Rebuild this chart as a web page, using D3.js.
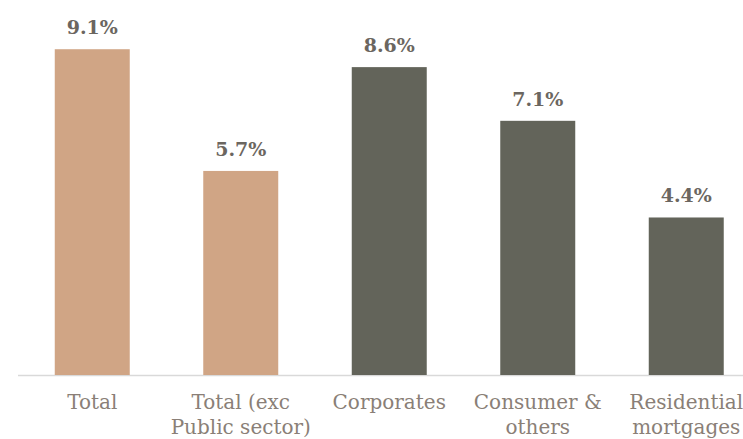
<!DOCTYPE html>
<html><head><meta charset="utf-8">
<script src="https://cdn.jsdelivr.net/npm/d3@7"></script>
<style>body{margin:0;background:#fff;}svg{display:block;}</style>
</head><body>
<svg id="c" width="743" height="439"></svg>
<script>
const categories = [["Total"], ["Total (exc", "Public sector)"], ["Corporates"], ["Consumer &", "others"], ["Residential", "mortgages"]];
const values = [9.1, 5.7, 8.6, 7.1, 4.4];
const groups = ["total", "total", "segment", "segment", "segment"];
const colors = {total: "#D0A585", segment: "#63645A"};

const svg = d3.select("#c");
const x = d3.scaleBand().domain(d3.range(values.length)).range([18, 760.5]).paddingInner(0.495).paddingOuter(0.2475);
const y = d3.scaleLinear().domain([0, 10]).range([375, 17]);

svg.append("line").attr("x1", 18).attr("x2", 743).attr("y1", y(0) + 0.5).attr("y2", y(0) + 0.5)
  .attr("stroke", "#d9d9d9").attr("stroke-width", 1.5);

svg.selectAll("rect.bar").data(values).join("rect").attr("class", "bar")
  .attr("x", (d, i) => x(i)).attr("width", x.bandwidth())
  .attr("y", d => y(d)).attr("height", d => y(0) - y(d))
  .attr("fill", (d, i) => colors[groups[i]]);

svg.selectAll("text.val").data(values).join("text").attr("class", "val")
  .attr("x", (d, i) => x(i) + x.bandwidth() / 2).attr("y", d => y(d) - 15)
  .attr("text-anchor", "middle").attr("font-family", "DejaVu Serif").attr("font-weight", "bold")
  .attr("font-size", 19).attr("fill", "#6b6660").text(d => d.toFixed(1) + "%");

const cat = svg.selectAll("text.cat").data(categories).join("text").attr("class", "cat")
  .attr("text-anchor", "middle").attr("font-family", "DejaVu Serif").attr("font-size", 20)
  .attr("fill", "#8a7f77");
cat.each(function(lines, i) {
  d3.select(this).selectAll("tspan").data(lines).join("tspan")
    .attr("x", x(i) + x.bandwidth() / 2).attr("y", (l, j) => 409 + j * 25).text(l => l);
});
</script>
</body></html>
